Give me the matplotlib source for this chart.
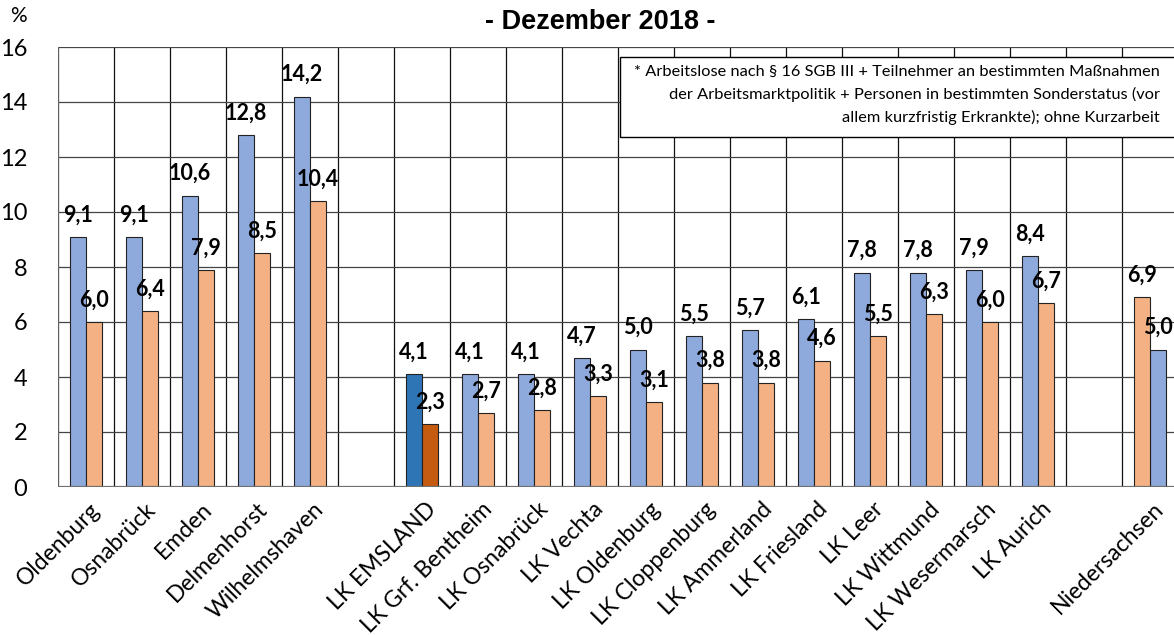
import matplotlib.pyplot as plt
import matplotlib.transforms as mtrans
from matplotlib.patches import Rectangle

# Data (December 2018, in %)
categories = ["Oldenburg", "Osnabrück", "Emden", "Delmenhorst", "Wilhelmshaven",
              "LK EMSLAND", "LK Grf. Bentheim", "LK Osnabrück", "LK Vechta",
              "LK Oldenburg", "LK Cloppenburg", "LK Ammerland", "LK Friesland",
              "LK Leer", "LK Wittmund", "LK Wesermarsch", "LK Aurich",
              "Niedersachsen"]
blue_values = [9.1, 9.1, 10.6, 12.8, 14.2,
               4.1, 4.1, 4.1, 4.7, 5.0, 5.5, 5.7, 6.1, 7.8, 7.8, 7.9, 8.4,
               5.0]
orange_values = [6.0, 6.4, 7.9, 8.5, 10.4,
                 2.3, 2.7, 2.8, 3.3, 3.1, 3.8, 3.8, 4.6, 5.5, 6.3, 6.0, 6.7,
                 6.9]
highlight = "LK EMSLAND"
orange_first = ["Niedersachsen"]
yticks = [0, 2, 4, 6, 8, 10, 12, 14, 16]
note_lines = ["* Arbeitslose nach § 16 SGB III + Teilnehmer an bestimmten Maßnahmen",
              "der Arbeitsmarktpolitik + Personen in bestimmten Sonderstatus (vor",
              "allem kurzfristig Erkrankte); ohne Kurzarbeit"]

# slot positions: 5 cities, gap, 12 districts, gap, Niedersachsen
positions = list(range(0, 5)) + list(range(6, 18)) + [19]

plt.rcParams['font.family'] = ['Lato', 'DejaVu Sans']

fig = plt.figure(figsize=(11.74, 6.35), dpi=100)
ax = fig.add_axes([58 / 1174, 148 / 635, 1120 / 1174, 440 / 635])

w = 0.28
for cat, x, b, o in zip(categories, positions, blue_values, orange_values):
    bc, oc = ('#2E75B6', '#C55A11') if cat == highlight else ('#8EA9DB', '#F4B183')
    if cat in orange_first:
        xo, xb = x - w / 2, x + w / 2
    else:
        xb, xo = x - w / 2, x + w / 2
    ax.bar(xb, b, width=w, color=bc, edgecolor='#222222', linewidth=0.8, zorder=3)
    ax.bar(xo, o, width=w, color=oc, edgecolor='#222222', linewidth=0.8, zorder=3)
    for xx, v in ((xb, b), (xo, o)):
        ax.text(xx, v + 0.8, f"{v:.1f}".replace('.', ','), ha='center', va='center',
                fontsize=15.5, fontweight='bold', color='black', zorder=4,
                clip_on=False)

ax.set_xlim(-0.5, 19.5)
ax.set_ylim(0, 16)
ax.set_yticks(yticks)
ax.set_yticklabels([str(t) for t in yticks], fontsize=17)
ax.tick_params(axis='y', length=0, pad=22)
ax.tick_params(axis='x', length=0, pad=4)
ax.set_xticks(positions)
ax.set_xticklabels(categories, rotation=45, ha='right', va='top',
                   rotation_mode='anchor', fontsize=16.5)
offset = mtrans.ScaledTranslation(3 / 100, -6 / 100, fig.dpi_scale_trans)
for lbl in ax.get_xticklabels():
    lbl.set_transform(lbl.get_transform() + offset)

# grid
for gx in [p - 0.5 for p in range(21)]:
    ax.axvline(gx, color='#111111', linewidth=0.9, zorder=1)
for gy in yticks:
    ax.axhline(gy, color='#444444', linewidth=0.9, zorder=1)
for s in ax.spines.values():
    s.set_visible(False)
ax.axhline(0, color='#707070', linewidth=1.6, zorder=5)
ax.axvline(-0.5, color='#707070', linewidth=1.2, zorder=5)

# note box
fig.patches.append(Rectangle((620 / 1174, 1 - 137 / 635), 600 / 1174, 80 / 635,
                             transform=fig.transFigure, facecolor='white',
                             edgecolor='black', linewidth=1.0, zorder=10))
for i, line in enumerate(note_lines):
    fig.text(1160 / 1174, 1 - (72 + 22.5 * i) / 635, line, ha='right', va='center',
             fontsize=11.8, zorder=11)

fig.text(600 / 1174, 1 - 22 / 635, "- Dezember 2018 -", ha='center', va='center',
         fontsize=19.5, fontweight='bold', family='Liberation Sans')
fig.text(10 / 1174, 1 - 16 / 635, "%", ha='left', va='center', fontsize=15)

fig.savefig('out.png', dpi=100)
